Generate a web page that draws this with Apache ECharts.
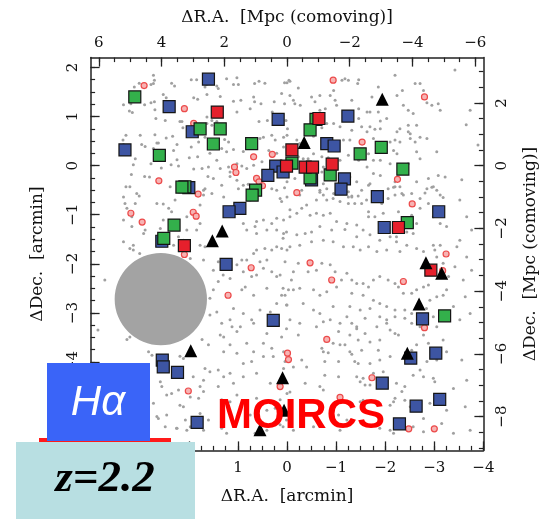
<!DOCTYPE html>
<html>
<head>
<meta charset="utf-8">
<script src="https://cdn.jsdelivr.net/npm/echarts@6/dist/echarts.min.js"></script>
<style>
  html, body { margin: 0; padding: 0; background: #fff; }
  #chart { width: 548px; height: 519px; }
</style>
</head>
<body>
<div id="chart"></div>
<script>
// Field positions in arcmin (ΔR.A., ΔDec.) relative to the field centre.
const ARCMIN_TO_MPC = 1.565;   // comoving Mpc per arcmin at z = 2.2

const raArcTicks  = [-4, -3, -2, -1, 0, 1, 2, 3, 4];
const decArcTicks = [-5, -4, -3, -2, -1, 0, 1, 2];
const raMpcTicks  = [-6, -4, -2, 0, 2, 4, 6];
const decMpcTicks = [-8, -6, -4, -2, 0, 2];

// Faint field galaxies
const fieldGalaxies = [
  // north-east
  [2.72,1.84],[2.70,1.74],[2.72,1.67],[3.11,1.60],[3.01,1.68],[2.77,1.65],[2.35,1.68],[2.29,1.62],
  [1.95,1.75],[1.84,1.75],[1.64,1.65],[1.43,1.62],[1.40,1.57],[1.23,1.77],[1.02,1.79],[1.09,1.65],
  [0.99,1.65],[0.66,1.67],[0.57,1.72],[0.45,1.68],[0.05,1.69],[-0.04,1.74],[3.33,1.24],[3.18,1.26],
  [2.90,1.24],[2.77,1.28],[2.70,1.30],[2.52,1.45],[2.46,1.38],[2.69,1.14],[3.21,1.11],[3.15,1.08],
  [1.90,1.38],[1.82,1.35],[1.63,1.45],[1.67,1.60],[1.36,1.41],[1.09,1.31],[0.94,1.33],[0.68,1.40],
  [0.66,1.30],[0.53,1.26],[0.26,1.30],[0.11,1.47],[0.05,1.26],[1.02,1.09],[0.75,1.16],[0.57,0.90],
  [0.40,0.92],[0.30,1.09],[0.02,0.92],[-0.01,0.75],[2.67,0.96],[2.48,0.92],[2.18,0.90],[2.14,0.90],
  [1.63,0.99],[1.53,0.92],[1.43,0.90],[1.63,0.86],[1.53,0.82],[2.12,0.77],[1.99,0.72],[2.33,0.60],
  [2.46,0.56],[2.69,0.63],[2.99,0.62],[3.34,0.52],[3.33,0.43],[2.96,0.43],[2.89,0.39],[2.65,0.46],
  [2.62,0.46],[2.72,0.35],[2.24,0.43],[2.31,0.31],[1.95,0.38],[1.80,0.48],[1.67,0.58],[1.27,0.53],
  [1.19,0.48],[1.33,0.35],[1.57,0.25],[1.23,0.28],[1.09,0.33],[0.89,0.29],[0.48,0.58],[0.55,0.55],
  [0.31,0.62],[0.24,0.52],[0.07,0.58],[0.00,0.62],[0.07,0.38],[3.09,0.14],[2.77,0.04],[2.56,-0.05],
  [2.36,0.02],[2.24,0.12],[2.21,-0.01],[1.99,0.16],[1.82,0.18],[1.90,-0.07],[1.73,-0.06],[1.60,-0.03],
  [1.43,0.11],[1.36,-0.06],[1.19,-0.03],[1.02,0.04],[0.92,-0.01],[0.82,-0.06],[0.68,0.01],[0.51,0.08],
  [0.37,0.31],[0.21,0.25],[1.16,-0.13],[1.02,-0.30],[1.33,-0.40],[1.50,-0.26],[1.61,-0.22],[1.16,-0.22],
  [2.90,-0.22],[2.80,-0.23],[3.17,-0.18],[3.20,-0.43],[3.28,-0.43],[3.06,-0.57],[3.01,-0.62],[3.33,-0.64],
  [2.38,-0.43],[1.70,-0.50],[1.67,-0.47],[1.53,-0.57],[1.70,-0.60],[1.29,-0.64],[0.99,-0.47],[0.89,-0.40],
  [0.79,-0.38],[0.31,-0.47],[0.21,-0.50],[0.05,-0.45],[0.00,-0.64],[0.14,-0.67],[3.13,0.02],[3.28,0.62],
  // north-west
  [-0.00,1.69],[-0.06,1.72],[-0.23,1.58],[-0.06,1.43],[-0.13,1.33],[-0.16,1.26],[-0.27,1.23],[-0.67,1.13],
  [-0.57,1.30],[-0.50,1.40],[-0.67,1.43],[-0.88,1.43],[-0.95,1.53],[-1.18,1.77],[-1.12,1.74],[-1.25,1.74],
  [-1.46,1.75],[-1.44,1.67],[-0.98,1.33],[-1.01,1.23],[-0.78,1.16],[-1.32,1.33],[-1.46,1.16],[-1.46,0.96],
  [-1.63,1.09],[-1.69,1.09],[-1.86,1.09],[-1.73,1.40],[-1.86,1.60],[-2.20,1.84],[-2.24,1.43],[-2.35,1.53],
  [-2.37,1.23],[-2.47,1.13],[-2.57,1.06],[-2.61,1.67],[-2.71,1.67],[-2.78,1.53],[-2.85,1.28],[-2.95,1.23],
  [-3.08,1.26],[-3.12,1.13],[-2.64,0.82],[-2.47,0.82],[-2.47,0.69],[-2.51,0.65],[-2.51,0.55],[-2.24,0.69],
  [-2.30,0.75],[-2.03,0.96],[-1.90,0.91],[-1.79,0.74],[-1.90,0.75],[-1.69,0.79],[-1.63,0.69],[-1.76,0.55],
  [-1.32,0.72],[-1.28,0.52],[-1.08,0.79],[-1.15,0.52],[-1.52,0.79],[-0.95,0.86],[-0.81,0.86],[-0.71,0.77],
  [-0.54,0.60],[-0.20,0.52],[-0.26,0.45],[-0.13,0.31],[-0.23,0.18],[-0.33,0.14],[-0.43,0.14],[-0.54,0.24],
  [-0.71,0.18],[-0.84,0.16],[-1.08,0.11],[-1.25,0.21],[-1.46,0.11],[-1.66,0.24],[-1.76,0.11],[-1.90,0.11],
  [-2.10,0.48],[-2.20,0.52],[-2.30,0.48],[-2.17,0.31],[-2.10,0.04],[-2.24,0.24],[-2.61,0.48],[-2.64,0.28],
  [-2.71,0.58],[-2.85,0.55],[-3.05,0.28],[-2.71,0.14],[-2.47,0.04],[-2.20,-0.33],[-1.90,-0.20],[-1.76,-0.16],
  [-1.63,-0.03],[-1.42,-0.33],[-1.28,-0.23],[-0.88,0.01],[-0.74,-0.03],[-0.71,-0.13],[-0.74,-0.37],[-0.67,-0.54],
  [-0.81,-0.47],[-0.95,-0.57],[-1.25,-0.64],[-1.32,-0.64],[-1.52,-0.50],[-1.66,-0.40],[-2.06,-0.47],[-2.20,-0.43],
  [-2.34,-0.57],[-2.54,-0.57],[-2.64,-0.33],[-2.85,-0.47],[-2.98,-0.43],[-3.08,-0.20],[-3.22,-0.23],[-3.12,-0.60],
  [-2.88,-0.26],[-0.16,-0.26],[-0.30,-0.50],[-0.00,-0.33],[-3.73,1.13],[-3.89,0.42],[-3.56,-0.29],[-3.42,1.95],
  [-3.65,0.83],
  // south-east
  [2.28,-0.70],[2.41,-0.87],[2.35,-0.94],[2.65,-0.77],[2.52,-0.78],[1.77,-0.80],[1.94,-0.94],[2.04,-1.04],
  [0.75,-0.70],[0.11,-0.73],[-0.06,-0.90],[0.07,-1.11],[0.21,-1.07],[0.31,-1.18],[0.48,-1.11],[0.62,-1.14],
  [0.65,-1.24],[0.82,-1.31],[0.89,-1.18],[1.09,-0.97],[0.62,-1.38],[0.41,-1.31],[0.21,-1.31],[0.07,-1.38],
  [0.31,-1.72],[0.45,-1.69],[0.62,-1.72],[0.68,-1.79],[0.82,-1.92],[0.92,-1.92],[1.02,-2.02],[0.89,-2.16],
  [0.55,-1.96],[0.41,-1.92],[0.21,-1.65],[0.11,-1.69],[0.00,-1.72],[0.21,-2.26],[0.31,-2.16],[0.14,-2.23],
  [0.48,-2.09],[0.62,-2.23],[0.72,-2.26],[0.85,-2.47],[0.92,-2.53],[0.68,-2.64],[0.41,-2.50],[0.11,-2.64],
  [-0.03,-2.53],[0.00,-2.84],[0.21,-2.81],[0.34,-2.98],[0.55,-2.94],[0.72,-3.14],[0.89,-3.01],[1.09,-2.91],
  [1.16,-3.14],[0.95,-3.28],[1.33,-3.21],[1.43,-2.98],[1.57,-3.04],[1.57,-2.70],[1.50,-2.53],[1.40,-2.36],
  [1.30,-2.23],[1.16,-2.30],[1.40,-1.96],[1.50,-2.13],[1.70,-1.92],[1.67,-1.65],[1.77,-1.62],[1.77,-1.18],
  [1.84,-1.31],[2.04,-1.31],[2.21,-1.45],[2.52,-1.11],[2.58,-1.28],[2.89,-1.31],[2.92,-1.38],[3.16,-1.24],
  [3.33,-1.55],[3.13,-1.72],[3.20,-1.69],[3.13,-1.62],[3.00,-1.79],[2.31,-1.62],[2.11,-1.52],[1.97,-1.89],
  [1.90,-2.16],[3.30,-0.77],[3.26,-0.87],[3.16,-1.04],[3.33,-1.11],[3.09,-0.77],[3.85,-3.35],[3.71,-2.33],
  [3.20,-3.49],[3.26,-3.54],[2.82,-3.79],[2.75,-3.86],[2.18,-3.88],[2.11,-3.93],[1.73,-3.54],[1.60,-3.65],
  [1.36,-3.45],[1.29,-3.49],[1.12,-3.28],[1.02,-3.38],[0.68,-3.21],[0.41,-3.42],[0.82,-3.62],[1.16,-3.65],
  [1.29,-3.79],[1.02,-3.82],[0.68,-3.79],[0.48,-3.62],[0.31,-3.72],[0.28,-3.89],[0.11,-3.49],[0.07,-3.79],
  [0.48,-3.89],[0.72,-3.99],[0.89,-4.03],[1.16,-4.23],[1.29,-4.30],[1.40,-4.16],[1.57,-4.20],[1.70,-4.37],
  [1.77,-4.50],[1.91,-4.30],[1.67,-4.13],[2.55,-4.50],[2.58,-4.40],[2.45,-4.67],[2.35,-4.64],[2.21,-4.57],
  [1.97,-4.71],[1.80,-4.74],[1.70,-4.60],[1.40,-4.50],[1.33,-4.77],[1.16,-4.81],[1.02,-4.67],[0.95,-4.91],
  [0.82,-4.94],[0.62,-4.74],[0.75,-5.08],[0.41,-4.98],[0.24,-4.94],[0.14,-4.77],[2.65,-5.11],[2.62,-5.15],
  [2.45,-5.08],[2.48,-5.32],[2.24,-5.35],[2.07,-5.18],[1.97,-5.32],[2.11,-4.91],[2.18,-4.88],[1.77,-5.05],
  [1.60,-5.18],[1.09,-4.43],[0.89,-4.30],[0.62,-4.23],[0.07,-4.13],[0.34,-4.43],[0.14,-4.50],[0.00,-4.64],
  [1.33,-5.35],[1.23,-5.45],[1.70,-5.39],[2.72,-4.84],[2.25,-5.35],[2.04,-5.39],[0.65,-5.45],[0.41,-5.39],
  [0.14,-5.28],
  // south-west
  [-0.26,-0.60],[-0.67,-0.50],[-0.74,-0.60],[-1.25,-0.53],[-1.32,-0.62],[-1.45,-0.62],[-1.69,-0.37],[-2.17,-0.44],
  [-2.30,-0.43],[-2.95,-0.44],[-3.05,-0.50],[-3.18,-0.65],[-2.81,-0.56],[-2.71,-0.67],[-2.37,-0.60],[-2.20,-0.60],
  [-2.06,-0.67],[-1.93,-0.77],[-1.62,-0.70],[-1.52,-0.77],[-1.38,-0.77],[-1.25,-0.77],[-1.08,-0.73],[-0.94,-0.67],
  [-0.81,-0.70],[-0.60,-0.70],[-0.40,-0.80],[-0.30,-0.87],[-0.06,-1.04],[-0.20,-0.97],[-0.47,-1.01],[-0.60,-0.97],
  [-0.74,-1.01],[-0.88,-0.97],[-1.01,-1.14],[-1.22,-1.18],[-1.42,-1.21],[-1.66,-0.94],[-1.66,-1.04],[-1.79,-1.04],
  [-1.96,-0.97],[-2.27,-0.94],[-2.54,-1.01],[-2.71,-0.87],[-2.88,-0.77],[-2.98,-1.04],[-3.25,-1.24],[-3.12,-1.18],
  [-2.64,-1.18],[-2.57,-1.38],[-2.44,-1.35],[-2.23,-1.45],[-2.10,-1.45],[-1.89,-1.52],[-1.69,-1.41],[-1.55,-1.31],
  [-1.42,-1.45],[-1.18,-1.30],[-0.91,-1.31],[-0.67,-1.24],[-0.50,-1.35],[-0.37,-1.38],[-0.20,-1.41],[0.01,-1.35],
  [0.08,-1.48],[-0.06,-1.65],[-0.26,-1.62],[-0.50,-1.55],[-0.74,-1.52],[-0.94,-1.55],[-1.15,-1.65],[-1.35,-1.65],
  [-1.49,-1.72],[-1.66,-1.65],[-1.83,-1.75],[-2.03,-1.72],[-2.23,-1.55],[-2.30,-1.75],[-2.44,-1.62],[-2.64,-1.69],
  [-2.78,-1.75],[-2.98,-1.62],[-3.12,-1.62],[-3.01,-1.72],[-3.05,-1.86],[-3.18,-1.99],[-3.29,-2.26],[-3.25,-2.53],
  [-3.18,-2.64],[-3.05,-2.67],[-2.91,-2.74],[-2.88,-2.43],[-2.78,-2.47],[-2.64,-2.53],[-2.54,-2.60],[-2.37,-2.60],
  [-2.27,-2.47],[-2.20,-2.40],[-2.06,-2.33],[-1.89,-2.26],[-1.76,-2.33],[-1.66,-2.47],[-1.55,-2.40],[-1.42,-2.40],
  [-1.32,-2.33],[-1.22,-2.19],[-0.98,-2.16],[-0.88,-2.02],[-0.71,-1.99],[-0.60,-2.13],[-0.43,-2.16],[-0.23,-1.99],
  [-0.13,-2.16],[0.04,-1.96],[-0.09,-2.33],[-0.13,-2.53],[-0.26,-2.50],[-0.54,-2.53],[-0.67,-2.64],[-0.81,-2.57],
  [-1.01,-2.47],[-1.11,-2.33],[-1.32,-2.60],[-1.55,-2.64],[-1.76,-2.74],[-1.89,-2.81],[-2.03,-2.87],[-2.20,-2.94],
  [-2.40,-2.94],[-2.54,-3.01],[-2.84,-2.91],[-2.98,-3.08],[-3.05,-3.28],[-2.71,-3.28],[-2.54,-3.21],[-2.40,-3.11],
  [-2.20,-3.08],[-2.03,-3.14],[-1.89,-3.08],[-1.69,-2.91],[-1.59,-3.11],[-1.42,-3.28],[-1.22,-3.08],[-1.08,-3.21],
  [-0.88,-3.14],[-0.67,-3.01],[-0.54,-2.94],[-0.33,-2.81],[0.01,-2.84],[0.08,-2.50],[0.04,-2.64],[-0.06,-3.14],
  [-0.26,-3.21],[-0.60,-3.28],[-0.94,-2.87],[-1.28,-2.87],[-1.49,-2.94],[-3.52,-0.70],[-3.66,-1.04],[-3.76,-1.31],
  [-3.52,-1.52],[-3.66,-1.86],[-3.76,-2.13],[-3.59,-2.33],[-3.63,-2.67],[-3.73,-3.01],[-3.52,-3.14],[-3.39,-2.87],
  [-3.42,-2.06],[-3.46,-1.65],
  [0.01,-3.32],[-0.23,-3.45],[-0.74,-3.18],[-1.05,-3.38],[-1.32,-3.21],[-1.42,-3.32],[-1.28,-3.45],[-1.59,-3.42],
  [-1.83,-3.28],[-2.03,-3.21],[-2.10,-3.35],[-2.20,-3.42],[-2.27,-3.45],[-1.89,-3.55],[-1.69,-3.59],[-1.45,-3.55],
  [-1.18,-3.65],[-0.94,-3.62],[-1.08,-3.65],[-0.71,-3.72],[-0.74,-3.79],[-0.84,-3.81],[-1.28,-3.79],[-1.32,-3.84],
  [-1.52,-3.76],[-1.86,-3.76],[-2.10,-3.89],[-1.89,-3.96],[-1.69,-4.03],[-1.45,-4.03],[-1.38,-3.99],[-1.05,-3.99],
  [-0.77,-3.99],[-0.40,-4.10],[-0.13,-4.10],[0.04,-3.99],[-0.30,-3.96],[-2.78,-3.45],[-2.88,-3.62],[-3.18,-3.55],
  [-3.25,-3.79],[-3.05,-3.96],[-2.85,-3.99],[-2.64,-3.65],[-2.54,-3.76],[-2.71,-4.16],[-2.98,-4.33],[-3.01,-4.40],
  [-2.78,-4.30],[-2.57,-4.27],[-2.40,-4.50],[-2.34,-4.60],[-2.23,-4.43],[-1.96,-4.20],[-1.76,-4.23],[-1.55,-4.33],
  [-1.59,-4.47],[-1.49,-4.40],[-1.69,-4.47],[-1.42,-4.30],[-1.05,-4.30],[-0.77,-4.27],[-0.37,-4.43],[-0.06,-4.61],
  [-0.67,-4.50],[-0.74,-4.57],[-1.55,-4.78],[-1.49,-4.81],[-1.32,-4.84],[-1.05,-5.08],[-1.22,-5.18],[-2.10,-4.88],
  [-2.17,-4.81],[-2.20,-4.74],[-2.40,-4.78],[-2.51,-4.91],[-2.78,-5.15],[-2.91,-4.84],[-3.25,-4.98],[-3.15,-5.25],
  [-2.57,-5.32],[-2.10,-5.39],[-1.08,-5.39],[0.01,-5.18],[0.08,-5.32],[-3.56,-3.96],[-3.66,-4.37],[-3.63,-4.91],
  [-3.73,-5.39],[-3.39,-4.54],[-0.13,-5.39],[-0.54,-5.32],[-1.89,-5.35],[-2.17,-5.45],[-2.78,-5.42],[-3.39,-5.45]
];

// Hα emitters without a confirmed redshift
const haCandidates = [
  [2.91,1.63],[2.09,1.16],[1.90,0.86],[0.68,0.18],[0.30,0.23],[1.07,-0.03],[1.04,-0.14],[0.62,-0.26],
  [0.57,-0.33],[0.50,-0.41],[2.61,-0.31],[1.81,-0.58],[-0.94,1.74],[-2.80,1.40],[-1.53,0.48],[-2.25,-0.28],
  [-0.20,-0.55],[3.18,-0.97],[2.95,-1.15],[1.91,-0.95],[1.85,-1.03],[2.09,-1.81],[0.73,-2.08],[1.20,-2.64],
  [-2.55,-0.78],[-3.24,-1.80],[-0.47,-1.98],[-0.91,-2.33],[-2.37,-2.36],[-3.17,-2.14],[-2.80,-3.30],[2.01,-4.59],
  [-0.01,-3.82],[-0.03,-3.95],[0.14,-4.50],[-0.81,-3.54],[-1.73,-4.32],[-1.08,-4.72],[-2.48,-5.36],[-3.00,-5.36]
];

const blueMembers = [
  [1.60,1.76],[2.40,1.20],[0.18,0.94],[1.93,0.69],[3.30,0.32],[0.23,-0.01],[0.39,-0.20],[0.08,-0.13],
  [2.00,-0.45],[-1.24,1.01],[-0.81,0.45],[-0.96,0.40],[-0.50,-0.29],[-1.17,-0.27],[-1.10,-0.48],[-1.84,-0.63],
  [0.96,-0.87],[1.18,-0.94],[2.55,-1.54],[1.24,-2.01],[0.28,-3.15],[-3.09,-0.94],[-1.98,-1.26],[-2.76,-3.12],
  [2.54,-3.96],[2.52,-4.10],[2.23,-4.21],[1.83,-5.23],[-2.52,-3.92],[-3.03,-3.82],[-1.94,-4.43],[-2.63,-4.90],
  [-3.11,-4.76],[-2.29,-5.26]
];

const greenMembers = [
  [3.10,1.40],[1.77,0.75],[1.36,0.75],[1.50,0.44],[0.72,0.45],[2.60,0.21],[2.08,-0.43],[2.14,-0.44],
  [0.64,-0.50],[0.71,-0.60],[-0.59,0.94],[-0.47,0.73],[-1.92,0.37],[-1.49,0.24],[-0.10,0.05],[-2.36,-0.07],
  [-0.88,-0.19],[-0.47,-0.25],[2.30,-1.21],[2.51,-1.48],[-2.45,-1.16],[-3.21,-3.06]
];

const redMembers = [
  [1.42,1.09],[-0.65,0.96],[-0.10,0.32],[0.01,-0.01],[-0.92,0.03],[-0.37,-0.03],[-0.52,-0.03],
  [2.09,-1.63],[-2.27,-1.26],[-2.93,-2.13]
];

const otherSources = [
  [-1.94,1.35],[-0.35,0.47],[1.32,-1.33],[1.52,-1.53],[-2.83,-1.98],[-3.15,-2.19],[-2.69,-2.82],
  [1.96,-3.77],[0.09,-4.32],[0.06,-4.98],[0.55,-5.38],[-2.45,-3.82]
];

// Masked bright-star region: centre and radius in arcmin
const maskCentre = [2.57, -2.72];
const maskRadius = 0.94;

const raRange  = [-4, 4];
const decRange = [-5.8, 2.2];

function stepValues(lo, hi, step) {
  const out = [];
  for (let v = Math.ceil(lo / step - 1e-9) * step; v <= hi + 1e-9; v += step) {
    out.push(Math.round(v * 1000) / 1000);
  }
  return out;
}
const fmt = v => String(v).replace('-', '\u2212');

const labelFont = { fontFamily: 'DejaVu Serif', fontSize: 15, color: '#111' };
const nameFont  = { fontFamily: 'DejaVu Serif', fontSize: 17, color: '#111' };
const frame = { show: true, onZero: false, lineStyle: { color: '#222', width: 1.5 } };
const MAJOR = 9, MINOR = 4.5;

function majorAxis(base, ticks) {
  return Object.assign({
    type: 'value',
    axisLine: frame,
    splitLine: { show: false },
    axisTick: { show: true, inside: true, length: MAJOR, customValues: ticks,
                lineStyle: { color: '#222', width: 1.3 } },
    nameTextStyle: nameFont
  }, base);
}
function minorAxis(base, step) {
  return Object.assign({
    type: 'value',
    axisLine: { show: false, onZero: false },
    splitLine: { show: false },
    axisLabel: { show: false },
    axisTick: { show: true, inside: true, length: MINOR,
                customValues: stepValues(base.min, base.max, step),
                lineStyle: { color: '#222', width: 1.2 } }
  }, base);
}

const mpcRa  = [raRange[0] * ARCMIN_TO_MPC, raRange[1] * ARCMIN_TO_MPC];
const mpcDec = [decRange[0] * ARCMIN_TO_MPC, decRange[1] * ARCMIN_TO_MPC];

const chart = echarts.init(document.getElementById('chart'), null, { renderer: 'canvas' });

const squareStyle = c => ({ color: c, borderColor: '#151515', borderWidth: 1.2, opacity: 1 });

chart.setOption({
  animation: false,
  backgroundColor: '#fff',
  grid: { left: 90.6, top: 57.6, width: 392.8, height: 392.8, containLabel: false },
  xAxis: [
    majorAxis({ position: 'bottom', min: raRange[0], max: raRange[1], inverse: true,
      name: '\u0394R.A.  [arcmin]', nameLocation: 'middle', nameGap: 38,
      axisLabel: Object.assign({ customValues: raArcTicks, formatter: fmt, margin: 10 }, labelFont) }, raArcTicks),
    minorAxis({ position: 'bottom', min: raRange[0], max: raRange[1], inverse: true }, 0.25),
    majorAxis({ position: 'top', min: mpcRa[0], max: mpcRa[1], inverse: true,
      name: '\u0394R.A.  [Mpc (comoving)]', nameLocation: 'middle', nameGap: 32,
      axisLabel: Object.assign({ customValues: raMpcTicks, formatter: fmt, margin: 7 }, labelFont) }, raMpcTicks),
    minorAxis({ position: 'top', min: mpcRa[0], max: mpcRa[1], inverse: true }, 0.5)
  ],
  yAxis: [
    majorAxis({ position: 'left', min: decRange[0], max: decRange[1],
      name: '\u0394Dec.  [arcmin]', nameLocation: 'middle', nameGap: 45, nameRotate: 90,
      axisLabel: Object.assign({ customValues: decArcTicks, formatter: fmt, margin: 10, rotate: 90 }, labelFont) }, decArcTicks),
    minorAxis({ position: 'left', min: decRange[0], max: decRange[1] }, 0.25),
    majorAxis({ position: 'right', min: mpcDec[0], max: mpcDec[1],
      name: '\u0394Dec.  [Mpc (comoving)]', nameLocation: 'middle', nameGap: 39, nameRotate: 90,
      axisLabel: Object.assign({ customValues: decMpcTicks, formatter: fmt, margin: 11, rotate: 90 }, labelFont) }, decMpcTicks),
    minorAxis({ position: 'right', min: mpcDec[0], max: mpcDec[1] }, 0.5)
  ],
  series: [
    { type: 'scatter', name: 'field', data: fieldGalaxies, symbolSize: 3,
      itemStyle: { color: '#a0a0a0', opacity: 1 }, silent: true, z: 2 },
    { type: 'custom', name: 'mask', data: [maskCentre.concat([maskRadius])], z: 3, silent: true,
      renderItem: function (params, api) {
        const c = api.coord([api.value(0), api.value(1)]);
        const r = api.size([api.value(2), api.value(2)])[0];
        return { type: 'circle', shape: { cx: c[0], cy: c[1], r: r }, style: { fill: '#a3a3a3' } };
      } },
    { type: 'scatter', name: 'H\u03b1 candidates', data: haCandidates, symbolSize: 6,
      itemStyle: { color: '#f7b3b3', borderColor: '#ec4a4a', borderWidth: 1.2, opacity: 1 }, z: 4 },
    { type: 'scatter', name: 'blue', data: blueMembers, symbol: 'rect', symbolSize: 12,
      itemStyle: squareStyle('#3d55a3'), z: 5 },
    { type: 'scatter', name: 'green', data: greenMembers, symbol: 'rect', symbolSize: 12,
      itemStyle: squareStyle('#33b04b'), z: 6 },
    { type: 'scatter', name: 'red', data: redMembers, symbol: 'rect', symbolSize: 12,
      itemStyle: squareStyle('#e6202c'), z: 7 },
    { type: 'scatter', name: 'other', data: otherSources, symbol: 'triangle', symbolSize: 13,
      itemStyle: { color: '#000', opacity: 1 }, z: 8 }
  ],
  graphic: [
    { type: 'rect', z: 100, shape: { x: 39, y: 438, width: 132, height: 4 }, style: { fill: '#ff1a1a' } },
    { type: 'rect', z: 101, shape: { x: 47, y: 363, width: 103, height: 78 }, style: { fill: '#3a64f8' } },
    { type: 'text', z: 102, x: 98, y: 403, style: { text: 'H\u03b1', fill: '#fff',
        font: 'italic 42px "Liberation Sans", Arial, sans-serif', align: 'center', verticalAlign: 'middle' } },
    { type: 'rect', z: 103, shape: { x: 16, y: 442, width: 179, height: 77 }, style: { fill: '#b8dfe2' } },
    { type: 'text', z: 104, x: 105, y: 479, style: { text: 'z=2.2', fill: '#000',
        font: 'italic bold 45px "Liberation Serif", "Times New Roman", serif', align: 'center', verticalAlign: 'middle' } },
    { type: 'text', z: 105, x: 301, y: 416, style: { text: 'MOIRCS', fill: '#ff0000',
        font: 'bold 42px "Liberation Sans", Arial, sans-serif', align: 'center', verticalAlign: 'middle' } }
  ]
});
</script>
</body>
</html>
